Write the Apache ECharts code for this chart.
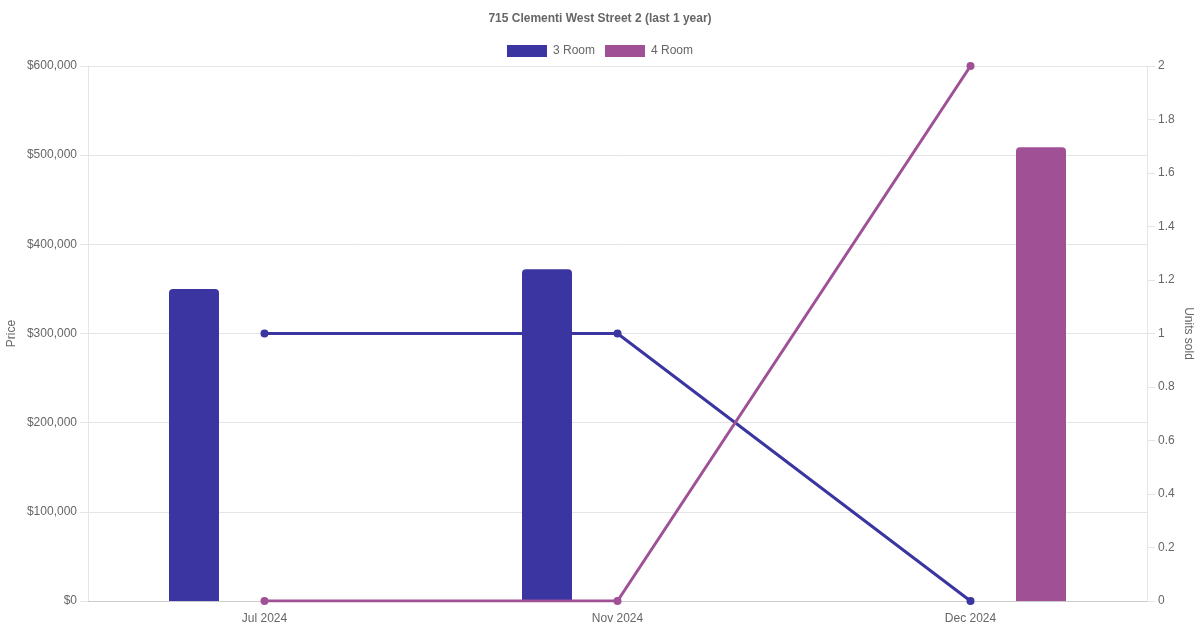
<!DOCTYPE html>
<html>
<head>
<meta charset="utf-8">
<script src="https://cdn.jsdelivr.net/npm/echarts@6/dist/echarts.min.js"></script>
<style>html,body{margin:0;padding:0;background:#fff}#c{width:1200px;height:630px}</style>
</head>
<body>
<div id="c"></div>
<script>
var categories = ['Jul 2024', 'Nov 2024', 'Dec 2024'];
var price3Room = [350000, 372000, null];
var price4Room = [null, null, 509000];
var units3Room = [1, 1, 0];
var units4Room = [0, 0, 2];
var priceTicks = { min: 0, max: 600000, interval: 100000 };
var unitTicks = { min: 0, max: 2, interval: 0.2 };

var C3 = '#3a35a0';
var C4 = '#a05195';
var FONT = 'Liberation Sans, Arial, Helvetica, sans-serif';
var GRID = '#e5e5e5';

var chart = echarts.init(document.getElementById('c'), null, { renderer: 'canvas' });
chart.setOption({
  animation: false,
  textStyle: { fontFamily: FONT },
  title: {
    text: '715 Clementi West Street 2 (last 1 year)',
    left: 'center', top: 8,
    textStyle: { fontSize: 12, fontWeight: 'bold', color: '#666', fontFamily: FONT }
  },
  legend: {
    data: ['3 Room', '4 Room'],
    top: 40, left: 'center',
    icon: 'rect', itemWidth: 40, itemHeight: 12, itemGap: 10,
    textStyle: { fontSize: 12, color: '#666', fontFamily: FONT, padding: [0, 0, 0, 1] }
  },
  grid: { left: 88, right: 53, top: 66, bottom: 29, containLabel: false, outerBoundsMode: 'none' },
  xAxis: {
    type: 'category', data: categories,
    axisLine: { lineStyle: { color: '#cccccc' } },
    axisTick: { show: false },
    axisLabel: { color: '#666', fontSize: 12, margin: 12, fontFamily: FONT },
    splitLine: { show: false }
  },
  yAxis: [{
    type: 'value', min: priceTicks.min, max: priceTicks.max, interval: priceTicks.interval,
    position: 'left',
    name: 'Price', nameLocation: 'middle', nameGap: 70, nameRotate: 90, nameMoveOverlap: false,
    nameTextStyle: { color: '#666', fontSize: 12, fontFamily: FONT },
    axisLine: { show: true, lineStyle: { color: GRID } },
    axisTick: { show: true, length: 8, lineStyle: { color: GRID } },
    axisLabel: {
      color: '#666', fontSize: 12, margin: 11, fontFamily: FONT,
      formatter: function (v) { return '$' + v.toLocaleString('en-US'); }
    },
    splitLine: { lineStyle: { color: GRID } }
  }, {
    type: 'value', min: unitTicks.min, max: unitTicks.max, interval: unitTicks.interval,
    position: 'right',
    name: 'Units sold', nameLocation: 'middle', nameGap: 35, nameRotate: -90, nameMoveOverlap: false,
    nameTextStyle: { color: '#666', fontSize: 12, fontFamily: FONT },
    axisLine: { show: true, lineStyle: { color: GRID } },
    axisTick: { show: true, length: 8, lineStyle: { color: GRID } },
    axisLabel: {
      color: '#666', fontSize: 12, margin: 11, fontFamily: FONT,
      formatter: function (v) { return String(Math.round(v * 10) / 10); }
    },
    splitLine: { show: false }
  }],
  series: [{
    name: '3 Room', type: 'bar', yAxisIndex: 0, data: price3Room,
    barWidth: 50, barGap: '182%',
    itemStyle: { color: C3, borderRadius: [4, 4, 0, 0] }
  }, {
    name: '4 Room', type: 'bar', yAxisIndex: 0, data: price4Room,
    barWidth: 50, barGap: '182%',
    itemStyle: { color: C4, borderRadius: [4, 4, 0, 0] }
  }, {
    name: '3 Room', type: 'line', yAxisIndex: 1, data: units3Room,
    symbol: 'circle', symbolSize: 8, z: 5,
    lineStyle: { color: C3, width: 3 }, itemStyle: { color: C3 }
  }, {
    name: '4 Room', type: 'line', yAxisIndex: 1, data: units4Room,
    symbol: 'circle', symbolSize: 8, z: 6,
    lineStyle: { color: C4, width: 3 }, itemStyle: { color: C4 }
  }]
});
</script>
</body>
</html>
